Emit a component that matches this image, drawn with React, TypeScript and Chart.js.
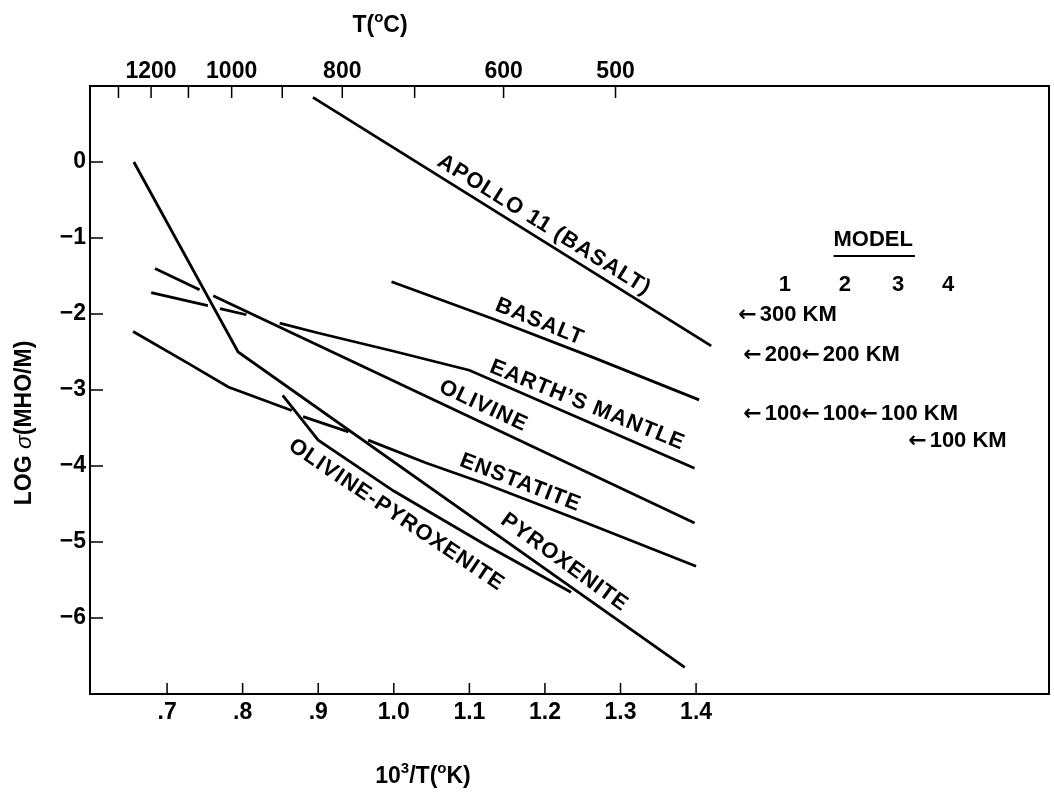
import React, { useEffect, useRef } from 'react';
import { Chart, registerables } from 'chart.js';

Chart.register(...registerables);

// ---- axis ranges / ticks ----
const X_MIN = 0.598;
const X_MAX = 1.867;
const Y_MIN = -7;
const Y_MAX = 1;

const xTickValues = [0.7, 0.8, 0.9, 1.0, 1.1, 1.2, 1.3, 1.4];
const xTickLabels = ['.7', '.8', '.9', '1.0', '1.1', '1.2', '1.3', '1.4'];
const yTickValues = [-6, -5, -4, -3, -2, -1, 0];
const yTickLabels = ['\u22126', '\u22125', '\u22124', '\u22123', '\u22122', '\u22121', '0'];
const tempTicksC = [1300, 1200, 1100, 1000, 900, 800, 700, 600, 500];
const tempLabelsC = [1200, 1000, 800, 600, 500];

// ---- series (x = 10^3/T(K), y = log sigma); null = break in the line ----
type Pt = [number, number] | null;
const apollo11: Pt[] = [[0.893, 0.85], [1.42, -2.42]];
const basalt: Pt[] = [[0.997, -1.575], [1.13, -2.06], [1.266, -2.58], [1.404, -3.13]];
const earthsMantle: Pt[] = [
  [0.679, -1.72], [0.754, -1.89], null, [0.77, -1.93], [0.805, -2.01], null,
  [0.849, -2.12], [0.9, -2.25], [1.0, -2.49], [1.1, -2.74], [1.398, -4.03],
];
const olivine: Pt[] = [[0.684, -1.4], [0.743, -1.68], null, [0.761, -1.76], [1.398, -4.75]];
const enstatite: Pt[] = [
  [0.655, -2.23], [0.728, -2.65], [0.781, -2.96], [0.865, -3.27], null,
  [0.88, -3.35], [0.94, -3.55], null,
  [0.966, -3.66], [1.043, -3.96], [1.12, -4.23], [1.24, -4.69], [1.4, -5.32],
];
const pyroxenite: Pt[] = [[0.656, 0.0], [0.794, -2.5], [1.385, -6.65]];
const olivinePyroxenite: Pt[] = [[0.853, -3.07], [0.9, -3.66], [1.0, -4.33], [1.12, -5.03], [1.2345, -5.66]];

// ---- curve labels: text, x, y (data), angle in degrees ----
const curveLabelText = ['APOLLO 11 (BASALT)', 'BASALT', "EARTH\u2019S MANTLE", 'OLIVINE', 'ENSTATITE', 'PYROXENITE', 'OLIVINE-PYROXENITE'];
const curveLabelX = [1.199, 1.193, 1.256, 1.1185, 1.1675, 1.2257, 1.0034];
const curveLabelY = [-0.83, -2.105, -3.2, -3.21, -4.22, -5.27, -4.645];
const curveLabelAngle = [32, 22, 22, 25, 21, 36, 34];

// ---- model annotation ----
const modelTitle = 'MODEL';
const modelTitlePos = [1.6344, -1.026];
const modelNumbers = ['1', '2', '3', '4'];
const modelNumberX = [1.5176, 1.597, 1.6675, 1.7336];
const modelNumberY = -1.618;
const modelRows = ['\u2190300 KM', '\u2190200\u2190200 KM', '\u2190100\u2190100\u2190100 KM', '\u2190100 KM'];
const modelRowX = [1.4558, 1.4624, 1.4624, 1.6807];
const modelRowY = [-2.013, -2.54, -3.316, -3.67];

const FAMILY = '"Liberation Sans", Arial, Helvetica, sans-serif';
const BOLD = `bold 22px ${FAMILY}`;
const TITLE = `bold 23px ${FAMILY}`;
const SUP = `bold 15px ${FAMILY}`;
const ARROW = 'bold 22px "DejaVu Sans", sans-serif';

function toData(arr: Pt[]) {
  const out: { x: number; y: number | null }[] = [];
  let lastX = arr[0] ? arr[0][0] : 0;
  arr.forEach((p) => {
    if (p) {
      out.push({ x: p[0], y: p[1] });
      lastX = p[0];
    } else {
      out.push({ x: lastX + 0.0001, y: null });
    }
  });
  return out;
}

type Run = [string, string, number, number?];
function drawRuns(ctx: CanvasRenderingContext2D, runs: Run[], cx: number, cy: number, align: 'center' | 'left' = 'center') {
  let total = 0;
  runs.forEach(([t, f, , extra]) => {
    ctx.font = f;
    total += ctx.measureText(t).width + (extra || 0);
  });
  let x = align === 'center' ? cx - total / 2 : cx;
  ctx.textAlign = 'left';
  ctx.textBaseline = 'middle';
  runs.forEach(([t, f, dy, extra]) => {
    ctx.font = f;
    ctx.fillText(t, x, cy + dy);
    x += ctx.measureText(t).width + (extra || 0);
  });
}

function rowRuns(s: string): Run[] {
  const runs: Run[] = [];
  s.split('\u2190').forEach((part, i) => {
    if (i > 0) runs.push(['\u2190', ARROW, 0, 3]);
    if (part) runs.push([part, BOLD, 0, 0]);
  });
  return runs;
}

const overlay = {
  id: 'overlay',
  afterDraw(chart: any) {
    const { ctx, chartArea: a, scales } = chart;
    const xs = scales.x;
    const ys = scales.y;
    const xt = scales.xTop;
    ctx.save();
    ctx.strokeStyle = '#000';
    ctx.fillStyle = '#000';
    // frame
    ctx.lineWidth = 2;
    ctx.strokeRect(a.left, a.top, a.right - a.left, a.bottom - a.top);
    // inward ticks
    ctx.lineWidth = 1.5;
    ctx.beginPath();
    xTickValues.forEach((v) => {
      const px = xs.getPixelForValue(v);
      ctx.moveTo(px, a.bottom);
      ctx.lineTo(px, a.bottom - 11);
    });
    tempTicksC.forEach((t) => {
      const px = xt.getPixelForValue(1000 / (t + 273.15));
      ctx.moveTo(px, a.top);
      ctx.lineTo(px, a.top + 12);
    });
    yTickValues.forEach((v) => {
      const py = ys.getPixelForValue(v);
      ctx.moveTo(a.left, py);
      ctx.lineTo(a.left + 13, py);
    });
    ctx.stroke();

    // axis titles
    drawRuns(ctx, [['T(', TITLE, 0], ['o', SUP, -8], ['C)', TITLE, 0]], 380, 26);
    drawRuns(ctx, [['10', TITLE, 0], ['3', SUP, -8], ['/T(', TITLE, 0], ['o', SUP, -8], ['K)', TITLE, 0]], 423, 777);
    ctx.save();
    ctx.translate(25, 423);
    ctx.rotate(-Math.PI / 2);
    drawRuns(ctx, [['LOG ', TITLE, 0], ['\u03c3', `italic 23px ${FAMILY}`, 0], ['(MHO/M)', TITLE, 0]], 0, 0);
    ctx.restore();

    // curve labels
    ctx.font = BOLD;
    (ctx as any).letterSpacing = '1px';
    ctx.textAlign = 'center';
    ctx.textBaseline = 'middle';
    curveLabelText.forEach((t, i) => {
      const px = xs.getPixelForValue(curveLabelX[i]);
      const py = ys.getPixelForValue(curveLabelY[i]);
      ctx.save();
      ctx.translate(px, py);
      ctx.rotate((curveLabelAngle[i] * Math.PI) / 180);
      ctx.fillText(t, 0, 0);
      ctx.restore();
    });
    (ctx as any).letterSpacing = '0px';

    // model annotation
    ctx.font = BOLD;
    ctx.textAlign = 'center';
    ctx.textBaseline = 'middle';
    const mx = xs.getPixelForValue(modelTitlePos[0]);
    const my = ys.getPixelForValue(modelTitlePos[1]);
    ctx.fillText(modelTitle, mx, my);
    const mw = ctx.measureText(modelTitle).width;
    ctx.lineWidth = 2;
    ctx.beginPath();
    ctx.moveTo(mx - mw / 2, my + 16);
    ctx.lineTo(mx + mw / 2 + 2, my + 16);
    ctx.stroke();
    modelNumbers.forEach((n, i) => {
      ctx.font = BOLD;
      ctx.textAlign = 'center';
      ctx.fillText(n, xs.getPixelForValue(modelNumberX[i]), ys.getPixelForValue(modelNumberY));
    });
    modelRows.forEach((r, i) => {
      drawRuns(ctx, rowRuns(r), xs.getPixelForValue(modelRowX[i]), ys.getPixelForValue(modelRowY[i]), 'left');
    });
    ctx.restore();
  },
};

const tickFont = { family: FAMILY, size: 23, weight: 'bold' as const };

export default function App() {
  const ref = useRef<HTMLCanvasElement>(null);
  useEffect(() => {
    const series = [apollo11, basalt, earthsMantle, olivine, enstatite, pyroxenite, olivinePyroxenite];
    const names = ['Apollo 11 (basalt)', 'Basalt', "Earth's mantle", 'Olivine', 'Enstatite', 'Pyroxenite', 'Olivine-pyroxenite'];
    const chart = new Chart(ref.current as HTMLCanvasElement, {
      type: 'line',
      data: {
        datasets: series.map((s, i) => ({
          label: names[i],
          data: toData(s) as any,
          borderColor: '#000',
          borderWidth: 2.8,
          pointRadius: 0,
          tension: 0,
          fill: false,
          spanGaps: false,
          xAxisID: 'x',
          yAxisID: 'y',
        })),
      },
      options: {
        responsive: false,
        animation: false,
        devicePixelRatio: 1,
        layout: { padding: { left: 0, right: 5, top: 0, bottom: 0 } },
        plugins: { legend: { display: false }, tooltip: { enabled: false } },
        scales: {
          x: {
            type: 'linear',
            position: 'bottom',
            min: X_MIN,
            max: X_MAX,
            afterBuildTicks: (s: any) => {
              s.ticks = xTickValues.map((v) => ({ value: v }));
            },
            afterFit: (s: any) => {
              s.height = 100;
            },
            ticks: {
              autoSkip: false,
              maxRotation: 0,
              padding: 5,
              color: '#000',
              font: tickFont,
              callback: (_v: any, i: number) => xTickLabels[i],
            },
            grid: { display: false, drawTicks: false },
            border: { display: false },
          },
          xTop: {
            type: 'linear',
            position: 'top',
            min: X_MIN,
            max: X_MAX,
            afterBuildTicks: (s: any) => {
              s.ticks = tempTicksC.map((t) => ({ value: 1000 / (t + 273.15) }));
            },
            afterFit: (s: any) => {
              s.height = 86;
            },
            ticks: {
              autoSkip: false,
              maxRotation: 0,
              padding: 1,
              color: '#000',
              font: tickFont,
              callback: (_v: any, i: number) => (tempLabelsC.includes(tempTicksC[i]) ? String(tempTicksC[i]) : ''),
            },
            grid: { display: false, drawTicks: false },
            border: { display: false },
          },
          y: {
            type: 'linear',
            min: Y_MIN,
            max: Y_MAX,
            afterBuildTicks: (s: any) => {
              s.ticks = yTickValues.map((v) => ({ value: v }));
            },
            afterFit: (s: any) => {
              s.width = 90;
            },
            ticks: {
              padding: 4,
              color: '#000',
              font: tickFont,
              callback: (_v: any, i: number) => yTickLabels[i],
            },
            grid: { display: false, drawTicks: false },
            border: { display: false },
          },
        },
      },
      plugins: [overlay],
    });
    return () => chart.destroy();
  }, []);
  return (
    <div style={{ position: 'fixed', left: 0, top: 0, width: 1054, height: 794, background: '#fff' }}>
      <canvas ref={ref} width={1054} height={794} style={{ display: 'block' }} />
    </div>
  );
}
